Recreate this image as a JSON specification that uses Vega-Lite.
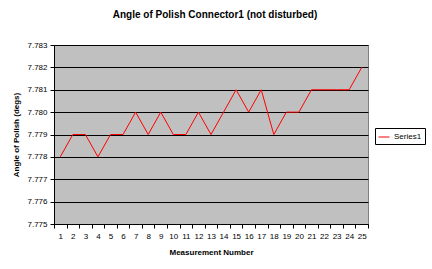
{
  "$schema": "https://vega.github.io/schema/vega-lite/v6.json",
  "width": 314,
  "height": 179,
  "autosize": {"type": "none"},
  "padding": {"left": 54, "top": 45, "right": 64, "bottom": 45},
  "background": "white",
  "title": {
    "text": "Angle of Polish Connector1 (not disturbed)",
    "font": "Liberation Sans",
    "fontSize": 10,
    "fontWeight": "bold",
    "color": "black",
    "offset": 21,
    "dx": 4
  },
  "config": {
    "view": {"fill": "#C0C0C0", "stroke": "#808080", "strokeWidth": 1},
    "font": "Liberation Sans"
  },
  "data": {
    "values": [
      {"n": 1, "v": 7.778, "s": "Series1"},
      {"n": 2, "v": 7.779, "s": "Series1"},
      {"n": 3, "v": 7.779, "s": "Series1"},
      {"n": 4, "v": 7.778, "s": "Series1"},
      {"n": 5, "v": 7.779, "s": "Series1"},
      {"n": 6, "v": 7.779, "s": "Series1"},
      {"n": 7, "v": 7.780, "s": "Series1"},
      {"n": 8, "v": 7.779, "s": "Series1"},
      {"n": 9, "v": 7.780, "s": "Series1"},
      {"n": 10, "v": 7.779, "s": "Series1"},
      {"n": 11, "v": 7.779, "s": "Series1"},
      {"n": 12, "v": 7.780, "s": "Series1"},
      {"n": 13, "v": 7.779, "s": "Series1"},
      {"n": 14, "v": 7.780, "s": "Series1"},
      {"n": 15, "v": 7.781, "s": "Series1"},
      {"n": 16, "v": 7.780, "s": "Series1"},
      {"n": 17, "v": 7.781, "s": "Series1"},
      {"n": 18, "v": 7.779, "s": "Series1"},
      {"n": 19, "v": 7.780, "s": "Series1"},
      {"n": 20, "v": 7.780, "s": "Series1"},
      {"n": 21, "v": 7.781, "s": "Series1"},
      {"n": 22, "v": 7.781, "s": "Series1"},
      {"n": 23, "v": 7.781, "s": "Series1"},
      {"n": 24, "v": 7.781, "s": "Series1"},
      {"n": 25, "v": 7.782, "s": "Series1"}
    ]
  },
  "mark": {"type": "line", "strokeWidth": 1},
  "encoding": {
    "x": {
      "field": "n",
      "type": "ordinal",
      "sort": null,
      "scale": {"paddingInner": 0, "paddingOuter": 0},
      "axis": {
        "title": "Measurement Number",
        "titleFont": "Liberation Sans",
        "titleFontSize": 8,
        "titleFontWeight": "bold",
        "titleColor": "black",
        "titlePadding": 8,
        "labelFont": "Liberation Sans",
        "labelFontSize": 8,
        "labelColor": "black",
        "labelAngle": 0,
        "labelPadding": 4,
        "tickBand": "extent",
        "tickSize": 4,
        "tickColor": "black",
        "domainColor": "black",
        "grid": false
      }
    },
    "y": {
      "field": "v",
      "type": "quantitative",
      "scale": {"domain": [7.775, 7.783], "zero": false, "nice": false},
      "axis": {
        "values": [7.775, 7.776, 7.777, 7.778, 7.779, 7.780, 7.781, 7.782, 7.783],
        "format": ".3f",
        "title": "Angle of Polish (degs)",
        "titleFont": "Liberation Sans",
        "titleFontSize": 8,
        "titleFontWeight": "bold",
        "titleColor": "black",
        "titlePadding": 6,
        "labelFont": "Liberation Sans",
        "labelFontSize": 8,
        "labelColor": "black",
        "labelPadding": 3,
        "tickSize": 4,
        "tickColor": "black",
        "domainColor": "black",
        "grid": true,
        "gridColor": "black",
        "gridOpacity": 1,
        "gridWidth": 1
      }
    },
    "color": {
      "field": "s",
      "type": "nominal",
      "scale": {"range": ["#FF0000"]},
      "legend": {
        "title": null,
        "orient": "none",
        "legendX": 321,
        "legendY": 83,
        "symbolType": "stroke",
        "symbolSize": 120,
        "symbolStrokeWidth": 1,
        "labelFont": "Liberation Sans",
        "labelFontSize": 8,
        "labelColor": "black",
        "strokeColor": "black",
        "fillColor": "white",
        "padding": 3
      }
    }
  }
}
